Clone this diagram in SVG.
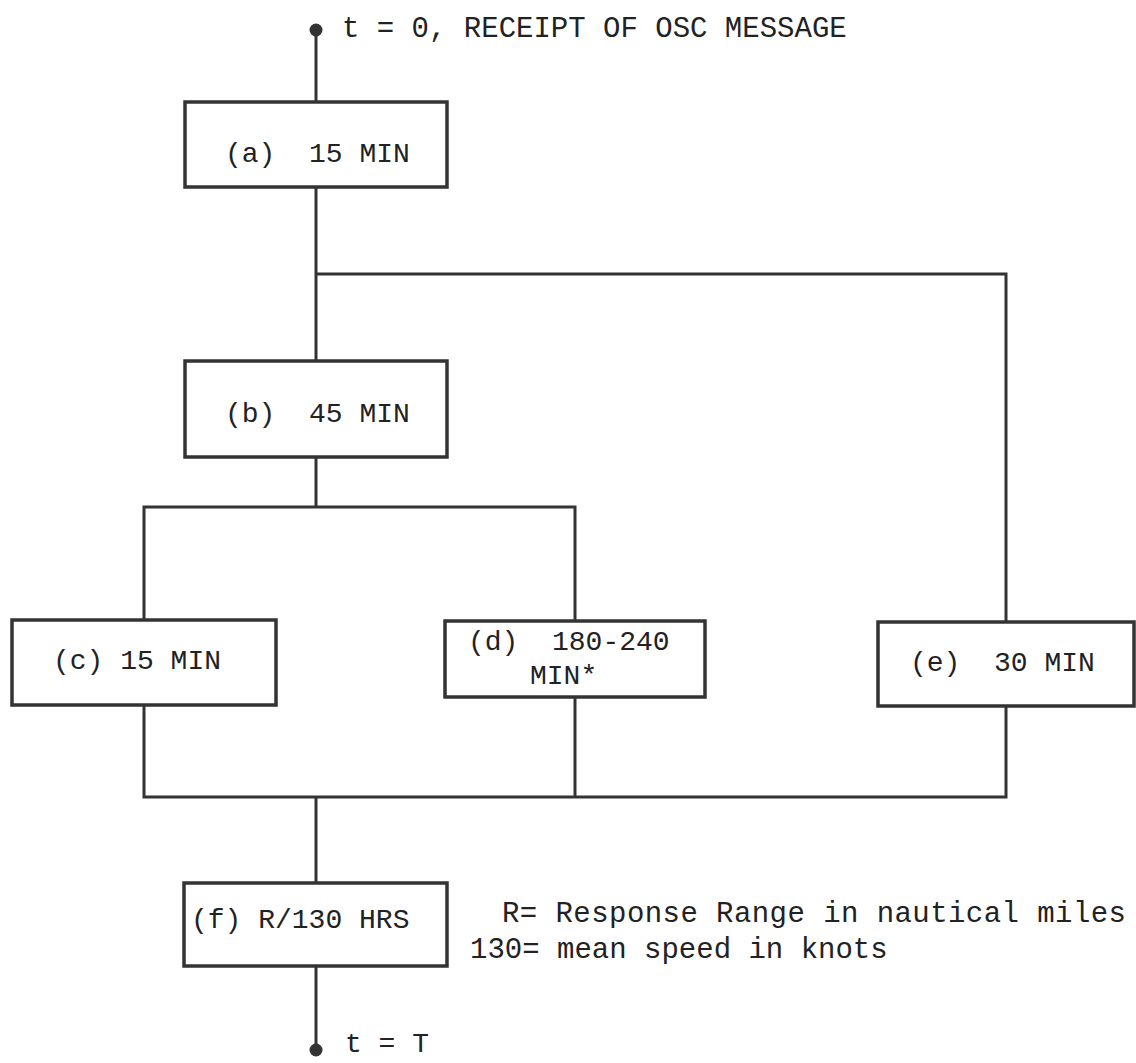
<svg xmlns="http://www.w3.org/2000/svg" width="1136" height="1063" viewBox="0 0 1136 1063">
<style>
.box{fill:none;stroke:#333;stroke-width:3.5}
.ln{fill:none;stroke:#333;stroke-width:3}
.dot{fill:#333}
text{font-family:"Liberation Mono","DejaVu Sans Mono",monospace;font-size:28px;fill:#222}
.big{font-size:29px}
</style>
<rect width="1136" height="1063" fill="#fff"/>
<g id="connectors">
<path class="ln" d="M316 30V102"/>
<path class="ln" d="M316 187V361"/>
<path class="ln" d="M316 274H1006V622"/>
<path class="ln" d="M316 457V507"/>
<path class="ln" d="M144 620V507H575V621"/>
<path class="ln" d="M144 705V797H1006V706"/>
<path class="ln" d="M575 697V797"/>
<path class="ln" d="M316 797V883"/>
<path class="ln" d="M316 966V1050"/>
</g>
<g id="start"><circle class="dot" cx="316" cy="30" r="6.5"/><text class="big" x="342" y="37">t = 0, RECEIPT OF OSC MESSAGE</text></g>
<g id="node-a"><rect class="box" x="185" y="102" width="262" height="85"/><text x="225" y="162" xml:space="preserve">(a)  15 MIN</text></g>
<g id="node-b"><rect class="box" x="185" y="361" width="262" height="96"/><text x="225" y="422" xml:space="preserve">(b)  45 MIN</text></g>
<g id="node-c"><rect class="box" x="12" y="620" width="264" height="85"/><text x="53" y="669">(c) 15 MIN</text></g>
<g id="node-d"><rect class="box" x="445" y="621" width="260" height="76"/><text x="468" y="650" xml:space="preserve">(d)  180-240</text><text x="530" y="684">MIN*</text></g>
<g id="node-e"><rect class="box" x="878" y="622" width="256" height="84"/><text x="910" y="671" xml:space="preserve">(e)  30 MIN</text></g>
<g id="node-f"><rect class="box" x="184" y="883" width="263" height="83"/><text x="191" y="928">(f) R/130 HRS</text></g>
<g id="end"><circle class="dot" cx="316" cy="1050" r="6.5"/><text x="345" y="1052">t = T</text></g>
<g id="legend"><text class="big" x="502" y="922" textLength="624" lengthAdjust="spacing">R= Response Range in nautical miles</text><text class="big" x="470" y="958">130= mean speed in knots</text></g>
</svg>
